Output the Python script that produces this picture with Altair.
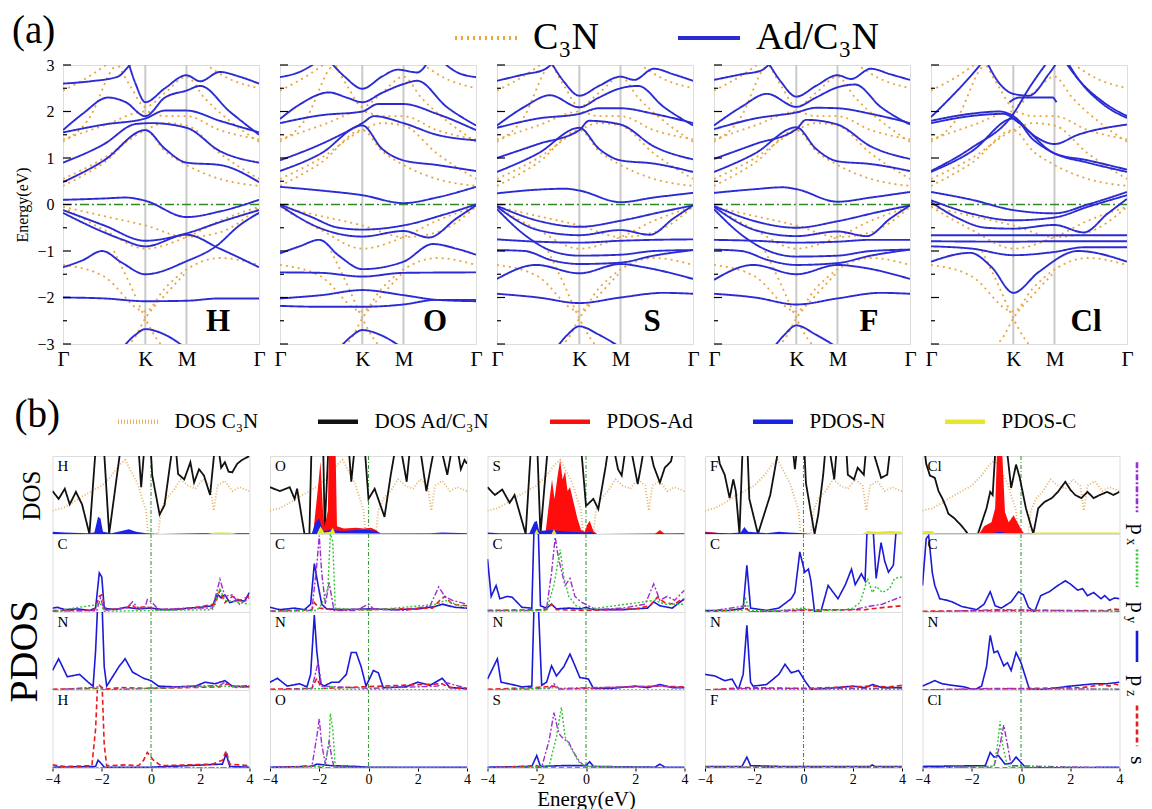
import altair as alt
import pandas as pd

SERIF = "Liberation Serif"

# ------------------------------------------------------------------ (a) data
K_POS = 0.42
M_POS = 0.63
KPATH_TICKS = [0.0, K_POS, M_POS, 1.0]
KPATH_LABELS = ["Γ", "K", "M", "Γ"]
ENERGY_TICKS_A = [-3, -2, -1, 0, 1, 2, 3]
MINOR_TICKS_A = [-2.5, -1.5, -0.5, 0.5, 1.5, 2.5]
ADSORBATES = ["H", "O", "S", "F", "Cl"]
SERIES_A = ["C₃N", "Ad/C₃N"]

C3N_BANDS = [
    [(0, -0.05), (0.21, -0.55), (0.42, -0.95), (0.63, -0.7), (0.8, -0.35), (1, -0.05)],
    [(0, -0.05), (0.21, -0.25), (0.42, -0.45), (0.63, -0.7), (0.8, -0.6), (1, -0.05)],
    [(0, -1.3), (0.21, -1.55), (0.42, -2.3), (0.52, -1.8), (0.63, -1.4), (0.8, -1.15), (1, -1.3)],
    [(0.26, -1.0), (0.34, -1.7), (0.42, -2.45), (0.48, -2.9), (0.52, -3.1)],
    [(0.3, -3.1), (0.36, -2.9), (0.42, -2.45), (0.52, -1.95), (0.63, -1.45)],
    [(0, 0.4), (0.21, 0.9), (0.42, 1.6), (0.52, 1.15), (0.63, 0.85), (0.8, 0.55), (1, 0.4)],
    [(0, 0.55), (0.21, 1.0), (0.42, 1.6), (0.52, 1.75), (0.63, 1.7), (0.8, 1.1), (1, 0.55)],
    [(0, 1.4), (0.21, 1.7), (0.42, 2.0), (0.52, 1.9), (0.63, 1.9), (0.8, 1.6), (1, 1.4)],
    [(0, 1.35), (0.14, 1.9), (0.25, 2.9), (0.3, 3.1)],
    [(0.27, 3.1), (0.35, 2.5), (0.42, 2.1), (0.52, 2.4), (0.63, 2.75), (0.72, 2.3), (0.85, 1.8), (1, 1.35)],
    [(0, 2.45), (0.15, 2.8), (0.25, 3.1)],
    [(0.7, 3.1), (0.85, 2.7), (1, 2.5)],
]

H_BANDS = [
    [(0, 2.6), (0.14, 2.65), (0.28, 2.75), (0.33, 2.95), (0.36, 3.1)],
    [(0.33, 3.1), (0.37, 2.6), (0.42, 2.2), (0.52, 2.5), (0.63, 2.78), (0.7, 2.65), (0.8, 2.85), (0.9, 2.75), (1, 2.6)],
    [(0, 1.6), (0.1, 1.95), (0.23, 2.3), (0.32, 2.2), (0.42, 1.9), (0.52, 2.3), (0.63, 2.45), (0.7, 2.55), (0.85, 2.0), (1, 1.5)],
    [(0, 1.55), (0.21, 1.72), (0.42, 1.85), (0.52, 2.02), (0.63, 2.02), (0.8, 1.8), (1, 1.55)],
    [(0, 0.9), (0.21, 1.3), (0.37, 1.73), (0.45, 1.75), (0.63, 1.65), (0.8, 1.15), (1, 0.9)],
    [(0, 0.48), (0.21, 0.95), (0.42, 1.6), (0.52, 1.2), (0.63, 0.9), (0.8, 0.85), (1, 0.48)],
    [(0, 0.1), (0.21, 0.13), (0.32, 0.15), (0.42, 0.08), (0.63, -0.27), (0.8, -0.15), (1, 0.1)],
    [(0, -0.12), (0.21, -0.45), (0.42, -0.78), (0.63, -0.62), (0.8, -0.38), (1, -0.12)],
    [(0, -0.18), (0.21, -0.6), (0.3, -0.75), (0.42, -0.9), (0.63, -0.65), (0.8, -0.95), (1, -1.35)],
    [(0, -1.35), (0.1, -1.2), (0.2, -1.0), (0.3, -1.25), (0.42, -1.5), (0.63, -1.22), (0.78, -0.9), (0.9, -0.45), (1, -0.18)],
    [(0, -2.0), (0.21, -2.02), (0.42, -2.08), (0.63, -2.07), (0.8, -2.02), (1, -2.02)],
    [(0.3, -3.1), (0.37, -2.8), (0.42, -2.68), (0.52, -2.8), (0.63, -3.1)],
]

O_BANDS = [
    [(0, 2.74), (0.1, 2.85), (0.2, 3.1)],
    [(0.25, 3.1), (0.33, 2.75), (0.42, 2.49), (0.52, 2.75), (0.6, 2.9), (0.7, 2.84), (0.76, 3.1)],
    [(0.82, 3.1), (0.9, 2.85), (1, 2.74)],
    [(0, 1.84), (0.1, 2.15), (0.25, 2.41), (0.34, 2.3), (0.42, 2.2), (0.52, 2.4), (0.63, 2.59), (0.7, 2.66), (0.85, 2.1), (1, 1.7)],
    [(0, 1.75), (0.21, 1.92), (0.42, 2.0), (0.5, 2.16), (0.63, 2.16), (0.8, 1.95), (1, 1.6)],
    [(0, 0.95), (0.21, 1.3), (0.42, 1.75), (0.48, 1.9), (0.63, 1.75), (0.8, 1.5), (1, 1.38)],
    [(0, 0.72), (0.21, 1.1), (0.42, 1.7), (0.52, 1.2), (0.63, 0.95), (0.8, 0.85), (1, 0.72)],
    [(0, 0.38), (0.21, 0.3), (0.42, 0.2), (0.63, 0.03), (0.8, 0.15), (1, 0.38)],
    [(0, 0.0), (0.15, -0.25), (0.3, -0.5), (0.42, -0.54), (0.63, -0.45), (0.85, -0.2), (1, 0.0)],
    [(0, -0.02), (0.2, -0.5), (0.42, -0.69), (0.63, -0.57), (0.76, -0.71), (0.9, -0.3), (1, -0.02)],
    [(0, -1.05), (0.1, -0.9), (0.2, -0.76), (0.3, -1.1), (0.42, -1.39), (0.63, -1.23), (0.78, -0.85), (0.9, -0.95), (1, -1.08)],
    [(0, -1.46), (0.21, -1.47), (0.42, -1.55), (0.63, -1.47), (1, -1.46)],
    [(0, -2.02), (0.21, -1.95), (0.42, -1.84), (0.63, -1.95), (0.8, -2.05), (1, -2.08)],
    [(0, -2.18), (0.21, -2.2), (0.42, -2.2), (0.63, -2.15), (0.8, -2.05), (1, -2.05)],
    [(0.3, -3.1), (0.36, -2.85), (0.42, -2.7), (0.52, -2.82), (0.63, -3.1)],
]

S_BANDS = [
    [(0, 2.66), (0.14, 2.8), (0.24, 2.9), (0.3, 3.1)],
    [(0.27, 3.1), (0.34, 2.65), (0.42, 2.34), (0.52, 2.55), (0.63, 2.75), (0.7, 2.68), (0.8, 2.92), (0.9, 2.8), (1, 2.66)],
    [(0, 1.7), (0.14, 2.1), (0.27, 2.35), (0.42, 2.09), (0.52, 2.3), (0.63, 2.5), (0.72, 2.55), (0.85, 2.1), (1, 1.7)],
    [(0, 1.65), (0.21, 1.85), (0.42, 1.95), (0.52, 2.07), (0.63, 2.07), (0.8, 1.95), (1, 1.75)],
    [(0, 1.0), (0.21, 1.3), (0.42, 1.6), (0.47, 1.8), (0.63, 1.72), (0.8, 1.25), (1, 0.97)],
    [(0, 0.7), (0.21, 1.1), (0.42, 1.65), (0.52, 1.2), (0.63, 0.95), (0.8, 0.88), (1, 0.7)],
    [(0, 0.24), (0.21, 0.32), (0.35, 0.34), (0.42, 0.3), (0.63, 0.05), (0.8, 0.15), (1, 0.25)],
    [(0, -0.03), (0.21, -0.35), (0.42, -0.48), (0.63, -0.35), (0.85, -0.15), (1, -0.02)],
    [(0, -0.05), (0.21, -0.55), (0.42, -0.66), (0.63, -0.55), (0.78, -0.65), (0.9, -0.3), (1, -0.02)],
    [(0, -0.75), (0.21, -0.8), (0.42, -0.82), (0.63, -0.78), (0.8, -0.76), (1, -0.75)],
    [(0, -0.1), (0.14, -0.65), (0.28, -1.0), (0.42, -1.1), (0.63, -1.08), (0.8, -1.0), (1, -0.98)],
    [(0, -0.98), (0.14, -1.0), (0.28, -1.2), (0.42, -1.28), (0.63, -1.25), (0.8, -1.1), (1, -0.98)],
    [(0, -1.6), (0.2, -1.3), (0.42, -1.48), (0.63, -1.28), (0.75, -1.35), (1, -1.6)],
    [(0, -1.92), (0.21, -2.0), (0.42, -2.12), (0.63, -2.0), (0.85, -1.9), (1, -1.92)],
    [(0.3, -3.1), (0.36, -2.8), (0.42, -2.62), (0.52, -2.8), (0.64, -3.1)],
]

F_BANDS = [
    [(0, 2.68), (0.14, 2.8), (0.24, 2.88), (0.3, 3.1)],
    [(0.27, 3.1), (0.34, 2.65), (0.42, 2.32), (0.52, 2.55), (0.63, 2.78), (0.7, 2.7), (0.8, 2.92), (0.9, 2.8), (1, 2.68)],
    [(0, 1.7), (0.14, 2.1), (0.27, 2.38), (0.42, 2.1), (0.52, 2.3), (0.63, 2.52), (0.72, 2.58), (0.85, 2.1), (1, 1.72)],
    [(0, 1.62), (0.21, 1.85), (0.42, 1.98), (0.52, 2.08), (0.63, 2.07), (0.8, 1.95), (1, 1.75)],
    [(0, 0.98), (0.21, 1.3), (0.42, 1.62), (0.47, 1.82), (0.63, 1.72), (0.8, 1.25), (1, 0.98)],
    [(0, 0.7), (0.21, 1.1), (0.42, 1.66), (0.52, 1.2), (0.63, 0.93), (0.8, 0.87), (1, 0.72)],
    [(0, 0.25), (0.21, 0.33), (0.35, 0.37), (0.42, 0.33), (0.63, 0.06), (0.8, 0.15), (1, 0.27)],
    [(0, -0.03), (0.21, -0.36), (0.42, -0.5), (0.63, -0.36), (0.85, -0.15), (1, -0.02)],
    [(0, -0.05), (0.21, -0.55), (0.42, -0.68), (0.63, -0.58), (0.78, -0.68), (0.9, -0.3), (1, -0.02)],
    [(0, -0.76), (0.21, -0.78), (0.42, -0.82), (0.63, -0.8), (0.8, -0.76), (1, -0.76)],
    [(0, -0.1), (0.14, -0.65), (0.28, -1.0), (0.42, -1.12), (0.63, -1.1), (0.8, -1.0), (1, -0.97)],
    [(0, -0.97), (0.14, -1.0), (0.28, -1.2), (0.42, -1.3), (0.63, -1.26), (0.8, -1.1), (1, -0.97)],
    [(0, -1.62), (0.2, -1.3), (0.42, -1.5), (0.63, -1.3), (0.75, -1.35), (1, -1.6)],
    [(0, -1.92), (0.21, -2.0), (0.42, -2.15), (0.63, -2.02), (0.85, -1.9), (1, -1.92)],
    [(0.3, -3.1), (0.36, -2.8), (0.42, -2.6), (0.52, -2.8), (0.64, -3.1)],
]

CL_BANDS = [
    [(0, 1.88), (0.1, 2.3), (0.2, 2.75), (0.27, 3.1)],
    [(0, 1.8), (0.2, 1.95), (0.35, 2.0), (0.42, 1.9), (0.52, 1.5), (0.63, 1.3), (0.75, 1.5), (1, 1.72)],
    [(0, 1.75), (0.2, 1.9), (0.37, 1.95), (0.45, 1.75), (0.63, 1.1), (0.8, 0.95), (1, 0.75)],
    [(0, 0.72), (0.2, 1.2), (0.42, 1.95), (0.5, 2.5), (0.6, 3.1)],
    [(0, 0.7), (0.21, 1.15), (0.42, 1.85), (0.52, 1.4), (0.63, 1.1), (0.8, 0.9), (1, 0.7)],
    [(0.28, 3.1), (0.35, 2.6), (0.42, 2.38), (0.5, 2.34), (0.6, 2.8), (0.65, 3.1)],
    [(0.4, 2.2), (0.45, 2.3), (0.62, 2.3), (0.64, 2.2)],
    [(0.68, 3.1), (0.75, 2.7), (0.88, 2.2), (1, 1.9)],
    [(0.69, 3.1), (0.76, 2.65), (0.88, 2.15), (1, 1.86)],
    [(0, 0.27), (0.21, 0.1), (0.42, -0.12), (0.63, -0.19), (0.8, 0.0), (1, 0.27)],
    [(0, 0.09), (0.21, -0.2), (0.42, -0.34), (0.63, -0.28), (0.8, -0.05), (1, 0.2)],
    [(0, 0.05), (0.14, -0.3), (0.28, -0.5), (0.42, -0.52), (0.63, -0.44), (0.78, -0.6), (0.9, -0.2), (1, 0.12)],
    [(0, -0.66), (0.42, -0.66), (0.63, -0.66), (1, -0.66)],
    [(0, -0.79), (0.42, -0.8), (0.63, -0.79), (1, -0.79)],
    [(0, -0.9), (0.21, -0.95), (0.42, -1.09), (0.63, -1.02), (0.78, -0.92), (1, -0.92)],
    [(0, -1.23), (0.2, -1.04), (0.31, -1.35), (0.42, -1.9), (0.55, -1.45), (0.75, -1.0), (1, -1.23)],
]

BANDS = {"H": H_BANDS, "O": O_BANDS, "S": S_BANDS, "F": F_BANDS, "Cl": CL_BANDS}

# ------------------------------------------------------------------ (b) data
ENERGY_TICKS_B = [-4, -2, 0, 2, 4]
SERIES_B = ["DOS C₃N", "DOS Ad/C₃N", "PDOS-Ad", "PDOS-N", "PDOS-C"]
ORBITAL_MAIN = ["p", "p", "p", "s"]
ORBITAL_SUB = ["x", "y", "z", ""]

C3N_DOS = [(-4, 0.3), (-3.6, 0.33), (-3.2, 0.4), (-2.8, 0.48), (-2.4, 0.55), (-2.0, 0.62), (-1.6, 0.75),
           (-1.3, 0.88), (-1.05, 0.95), (-0.8, 0.8), (-0.55, 0.65), (-0.35, 0.45), (-0.2, 0.3), (-0.12, 0.0),
           (0.3, 0.0), (0.4, 0.3), (0.6, 0.45), (0.9, 0.55), (1.2, 0.7), (1.5, 0.62), (1.8, 0.58), (2.1, 0.7),
           (2.4, 0.62), (2.55, 0.3), (2.7, 0.62), (3.0, 0.68), (3.3, 0.55), (3.6, 0.6), (4.0, 0.55)]

H_DOS_TOT = [(-4, 0.55), (-3.75, 0.45), (-3.5, 0.58), (-3.3, 0.38), (-3.05, 0.54), (-2.8, 0.38), (-2.5, 0.0),
             (-2.2, 1.3), (-1.95, 1.3), (-1.7, 0.0), (-1.15, 1.3), (-0.55, 1.3), (-0.4, 0.6), (-0.22, 1.3),
             (-0.05, 1.3), (0.05, 0.75), (0.35, 0.25), (0.55, 0.37), (0.95, 1.3), (1.1, 0.77), (1.35, 0.7),
             (1.6, 0.92), (1.75, 0.66), (1.95, 0.83), (2.15, 0.75), (2.4, 0.5), (2.65, 1.3), (2.85, 0.85),
             (3.0, 0.92), (3.15, 0.8), (3.3, 0.79), (3.5, 0.9), (3.7, 0.95), (4.0, 1.0)]
H_PDOS_AD = [(-4, 0.0), (-2.2, 0.0), (-2.1, 0.03), (-2.0, 0.0), (4, 0.0)]
H_PDOS_N = [(-4, 0.03), (-3.5, 0.02), (-2.6, 0.01), (-2.3, 0.02), (-2.15, 0.22), (-2.05, 0.2), (-1.95, 0.03),
            (-1.6, 0.01), (-1.2, 0.04), (-0.9, 0.06), (-0.6, 0.03), (-0.2, 0.01), (0.3, 0.0), (2.0, 0.01),
            (3.0, 0.01), (4.0, 0.01)]
H_PDOS_C = [(-4, 0.0), (2.3, 0.0), (2.6, 0.02), (3.2, 0.02), (3.5, 0.0), (4, 0.0)]

H_C_PX = [(-4, 0.01), (-2.2, 0.02), (-2.05, 0.18), (-1.9, 0.02), (-1.0, 0.05), (-0.75, 0.13), (-0.5, 0.05),
          (-0.25, 0.05), (-0.15, 0.16), (0.05, 0.12), (0.3, 0.03), (1.5, 0.05), (2.5, 0.05), (2.8, 0.42),
          (3.0, 0.2), (3.3, 0.22), (3.6, 0.1), (4.0, 0.18)]
H_C_PY = [(-4, 0.01), (-2.05, 0.1), (-1.9, 0.01), (2.5, 0.03), (2.8, 0.3), (3.0, 0.15), (4, 0.1)]
H_C_PZ = [(-4, 0.05), (-3.8, 0.06), (-3.5, 0.03), (-3.0, 0.04), (-2.5, 0.02), (-2.25, 0.05), (-2.1, 0.5),
          (-2.0, 0.45), (-1.9, 0.05), (-1.5, 0.03), (-1.0, 0.06), (-0.5, 0.04), (0.0, 0.05), (0.5, 0.03),
          (1.0, 0.03), (1.5, 0.05), (2.0, 0.06), (2.5, 0.08), (2.7, 0.23), (2.85, 0.18), (3.0, 0.22),
          (3.2, 0.12), (3.5, 0.15), (3.8, 0.14), (4.0, 0.25)]
H_C_S = [(-4, 0.02), (-2.3, 0.02), (-2.1, 0.2), (-2.0, 0.22), (-1.85, 0.03), (-1.0, 0.05), (-0.8, 0.1),
         (-0.6, 0.05), (-0.2, 0.07), (0.2, 0.03), (1.5, 0.04), (2.2, 0.08), (2.6, 0.1), (2.8, 0.28),
         (3.0, 0.12), (3.3, 0.2), (3.6, 0.15), (4.0, 0.2)]
H_N_PX = [(-4, 0.0), (-2.1, 0.04), (-1.9, 0.0), (2.8, 0.06), (3.0, 0.1), (3.3, 0.04), (4, 0.06)]
H_N_PY = [(-4, 0.0), (-2.1, 0.02), (-1.9, 0.0), (3.0, 0.05), (4, 0.03)]
H_N_PZ = [(-4, 0.25), (-3.75, 0.4), (-3.4, 0.17), (-2.9, 0.2), (-2.55, 0.1), (-2.35, 0.05), (-2.25, 0.5),
          (-2.15, 1.2), (-2.0, 1.2), (-1.9, 0.3), (-1.8, 0.05), (-1.6, 0.15), (-1.3, 0.3), (-1.05, 0.4),
          (-0.75, 0.23), (-0.3, 0.15), (0.0, 0.12), (0.3, 0.05), (1.0, 0.04), (1.8, 0.05), (2.2, 0.1),
          (2.6, 0.08), (3.0, 0.12), (3.3, 0.05), (4.0, 0.04)]
H_N_S = [(-4, 0.01), (-2.2, 0.02), (-2.1, 0.06), (-1.9, 0.01), (-1.2, 0.03), (0, 0.02), (2.8, 0.04),
         (3.1, 0.08), (3.5, 0.03), (4, 0.05)]
H_AD_PX = [(-4, 0.0), (4, 0.0)]
H_AD_PY = [(-4, 0.0), (4, 0.0)]
H_AD_PZ = [(-4, 0.01), (-2.25, 0.02), (-2.15, 0.1), (-2.0, 0.05), (-1.9, 0.01), (0, 0.01), (2.9, 0.05),
           (3.05, 0.18), (3.2, 0.02), (4, 0.01)]
H_AD_S = [(-4, 0.04), (-3.5, 0.02), (-2.4, 0.03), (-2.25, 0.5), (-2.15, 1.2), (-2.0, 1.2), (-1.9, 0.3),
          (-1.8, 0.03), (-1.0, 0.04), (-0.5, 0.03), (-0.3, 0.1), (-0.15, 0.2), (0.1, 0.1), (0.4, 0.03),
          (1.5, 0.04), (2.5, 0.05), (2.9, 0.1), (3.05, 0.22), (3.2, 0.05), (4, 0.03)]

O_DOS_TOT = [(-4, 0.6), (-3.6, 0.55), (-3.2, 0.6), (-3.0, 0.45), (-2.9, 0.58), (-2.6, 0.0), (-2.4, 0.0),
             (-2.3, 1.3), (-1.85, 1.3), (-1.78, 0.05), (-1.6, 1.3), (-0.85, 1.3), (-0.7, 0.67), (-0.5, 1.3),
             (-0.2, 1.3), (0.0, 0.45), (0.25, 0.58), (0.65, 0.22), (0.9, 0.75), (1.2, 1.3), (1.55, 0.67),
             (1.75, 1.3), (2.0, 1.3), (2.35, 0.55), (2.55, 0.9), (2.8, 1.3), (3.2, 0.76), (3.5, 1.3),
             (3.75, 0.83), (3.9, 0.95), (4.0, 0.9)]
O_PDOS_AD = [(-4, 0.0), (-2.25, 0.0), (-2.15, 0.3), (-2.05, 0.6), (-1.95, 0.93), (-1.85, 0.3), (-1.78, 0.1),
             (-1.65, 0.3), (-1.6, 1.3), (-1.35, 1.3), (-1.28, 0.1), (-1.0, 0.07), (-0.5, 0.08), (-0.2, 0.07),
             (0.1, 0.08), (0.3, 0.05), (0.5, 0.0), (4, 0.0)]
O_PDOS_N = [(-4, 0.01), (-2.3, 0.01), (-2.15, 0.15), (-2.0, 0.2), (-1.85, 0.04), (-1.5, 0.05), (-1.0, 0.04),
            (-0.5, 0.05), (0.0, 0.05), (0.3, 0.04), (0.5, 0.01), (2.5, 0.01), (3.0, 0.02), (4, 0.01)]
O_PDOS_C = [(-4, 0.0), (-2.1, 0.0), (-1.95, 0.1), (-1.8, 0.02), (-1.55, 0.03), (-1.45, 0.08), (-1.35, 0.01),
            (4, 0.0)]

O_C_PX = [(-4, 0.01), (-2.3, 0.02), (-2.1, 0.6), (-2.0, 0.98), (-1.9, 0.5), (-1.75, 0.1), (-1.6, 0.38),
          (-1.5, 0.2), (-1.4, 0.02), (-0.5, 0.02), (0.0, 0.1), (0.2, 0.04), (1.5, 0.02), (2.5, 0.08),
          (2.85, 0.32), (3.1, 0.2), (3.4, 0.15), (4, 0.1)]
O_C_PY = [(-4, 0.01), (-2.1, 0.02), (-1.9, 0.1), (-1.65, 0.3), (-1.55, 1.0), (-1.45, 0.9), (-1.35, 0.05),
          (0, 0.02), (2.8, 0.1), (3.1, 0.15), (4, 0.05)]
O_C_PZ = [(-4, 0.06), (-3.6, 0.03), (-3.0, 0.05), (-2.6, 0.03), (-2.35, 0.1), (-2.2, 0.62), (-2.05, 0.35),
          (-1.9, 0.1), (-1.7, 0.04), (-1.0, 0.03), (0.0, 0.04), (1.0, 0.03), (2.0, 0.04), (2.7, 0.07),
          (3.0, 0.1), (3.5, 0.06), (4, 0.05)]
O_C_S = [(-4, 0.01), (-2.3, 0.03), (-2.2, 0.12), (-2.0, 0.05), (-1.5, 0.03), (0, 0.03), (2.6, 0.05),
         (2.9, 0.15), (3.1, 0.2), (3.4, 0.1), (4, 0.08)]
O_N_PX = [(-4, 0.0), (-2.3, 0.02), (-2.05, 0.35), (-1.9, 0.05), (0, 0.02), (2.8, 0.05), (3.1, 0.1), (4, 0.02)]
O_N_PY = [(-4, 0.0), (-1.6, 0.02), (-1.5, 0.06), (-1.4, 0.01), (4, 0.0)]
O_N_PZ = [(-4, 0.1), (-3.7, 0.15), (-3.3, 0.05), (-2.8, 0.08), (-2.5, 0.04), (-2.35, 0.2), (-2.2, 0.96),
          (-2.1, 0.5), (-1.95, 0.08), (-1.8, 0.05), (-1.5, 0.1), (-1.2, 0.1), (-0.9, 0.2), (-0.7, 0.48),
          (-0.5, 0.48), (-0.3, 0.3), (-0.1, 0.05), (0.2, 0.25), (0.4, 0.22), (0.6, 0.03), (1.5, 0.04),
          (2.0, 0.1), (2.5, 0.06), (3.0, 0.15), (3.3, 0.03), (4, 0.02)]
O_N_S = [(-4, 0.01), (-2.3, 0.02), (-2.1, 0.15), (-1.9, 0.02), (3.0, 0.08), (3.2, 0.04), (4, 0.01)]
O_AD_PX = [(-4, 0.0), (-2.3, 0.02), (-2.1, 0.4), (-2.0, 0.63), (-1.9, 0.3), (-1.75, 0.05), (-1.6, 0.35),
           (-1.5, 0.15), (-1.4, 0.01), (4, 0.0)]
O_AD_PY = [(-4, 0.0), (-1.8, 0.02), (-1.6, 0.3), (-1.55, 0.7), (-1.45, 0.5), (-1.35, 0.01), (4, 0.0)]
O_AD_PZ = [(-4, 0.01), (-2.3, 0.02), (-2.1, 0.05), (-1.5, 0.03), (-0.5, 0.02), (0, 0.01), (4, 0.01)]
O_AD_S = [(-4, 0.0), (-2.1, 0.03), (-1.9, 0.0), (4, 0.0)]

S_DOS_TOT = [(-4, 0.6), (-3.7, 0.5), (-3.4, 0.57), (-3.1, 0.4), (-2.9, 0.5), (-2.45, 0.0), (-2.2, 1.3),
             (-2.0, 1.3), (-1.85, 0.0), (-1.5, 1.3), (-0.25, 1.3), (0.0, 0.36), (0.3, 0.45), (0.5, 0.32),
             (0.8, 0.87), (1.0, 1.3), (1.3, 0.83), (1.45, 0.75), (1.7, 1.3), (2.1, 0.64), (2.25, 0.9),
             (2.45, 1.3), (2.75, 0.87), (3.0, 0.66), (3.2, 0.85), (3.45, 0.93), (3.7, 1.3), (4.0, 1.0)]
S_PDOS_AD = [(-4, 0.0), (-1.65, 0.0), (-1.5, 0.4), (-1.38, 0.7), (-1.28, 0.45), (-1.15, 0.75), (-1.05, 0.95),
             (-0.95, 0.7), (-0.85, 0.8), (-0.75, 0.55), (-0.65, 0.6), (-0.5, 0.4), (-0.35, 0.2), (-0.2, 0.05),
             (-0.05, 0.03), (0.05, 0.12), (0.15, 0.17), (0.3, 0.04), (0.45, 0.0), (2.8, 0.0), (3.0, 0.05),
             (3.2, 0.0), (4, 0.0)]
S_PDOS_N = [(-4, 0.02), (-3.5, 0.01), (-2.3, 0.01), (-2.1, 0.15), (-2.0, 0.17), (-1.9, 0.04), (-1.4, 0.05),
            (-0.7, 0.03), (0, 0.02), (0.2, 0.03), (0.4, 0.0), (4, 0.01)]
S_PDOS_C = [(-4, 0.0), (-2.1, 0.0), (-2.0, 0.06), (-1.9, 0.0), (-1.4, 0.0), (-1.3, 0.06), (-1.2, 0.0), (4, 0.0)]

S_C_PX = [(-4, 0.02), (-2.0, 0.02), (-1.6, 0.05), (-1.4, 0.5), (-1.25, 0.96), (-1.15, 0.75), (-1.05, 0.6),
          (-0.85, 0.34), (-0.65, 0.43), (-0.45, 0.2), (-0.2, 0.13), (0.1, 0.08), (0.4, 0.03), (1.5, 0.05),
          (2.4, 0.1), (2.75, 0.36), (3.0, 0.15), (3.3, 0.2), (3.6, 0.15), (4.0, 0.28)]
S_C_PY = [(-4, 0.01), (-1.6, 0.02), (-1.3, 0.35), (-1.05, 0.8), (-0.9, 0.45), (-0.7, 0.2), (-0.4, 0.08),
          (0, 0.03), (2.8, 0.15), (3.2, 0.1), (4, 0.1)]
S_C_PZ = [(-4, 0.68), (-3.85, 0.2), (-3.65, 0.34), (-3.5, 0.17), (-3.2, 0.2), (-3.0, 0.19), (-2.6, 0.06),
          (-2.2, 0.05), (-2.1, 1.2), (-1.95, 1.2), (-1.85, 0.08), (-1.6, 0.05), (-1.4, 0.1), (-1.2, 0.04),
          (-0.7, 0.05), (-0.2, 0.04), (0.0, 0.06), (0.3, 0.03), (1.5, 0.03), (2.5, 0.05), (2.75, 0.13),
          (3.0, 0.08), (3.5, 0.05), (4.0, 0.17)]
S_C_S = [(-4, 0.02), (-1.6, 0.03), (-1.4, 0.1), (-1.2, 0.03), (0, 0.02), (2.0, 0.04), (2.6, 0.08),
         (2.9, 0.19), (3.2, 0.12), (3.6, 0.1), (3.9, 0.17), (4, 0.15)]
S_N_PX = [(-4, 0.0), (-1.5, 0.02), (-1.3, 0.08), (-1.1, 0.02), (3.0, 0.05), (4, 0.03)]
S_N_PY = [(-4, 0.0), (-1.2, 0.03), (-1.0, 0.0), (4, 0.0)]
S_N_PZ = [(-4, 0.14), (-3.6, 0.4), (-3.45, 0.1), (-3.0, 0.07), (-2.6, 0.04), (-2.2, 0.05), (-2.1, 1.2),
          (-1.95, 1.2), (-1.8, 0.06), (-1.6, 0.1), (-1.4, 0.31), (-1.2, 0.18), (-0.9, 0.3), (-0.65, 0.46),
          (-0.5, 0.35), (-0.25, 0.16), (0.1, 0.14), (0.3, 0.02), (1.0, 0.02), (2.0, 0.05), (2.5, 0.03),
          (3.0, 0.07), (3.5, 0.03), (4, 0.03)]
S_N_S = [(-4, 0.01), (-2.1, 0.03), (-1.3, 0.05), (-1.1, 0.01), (2.9, 0.05), (3.9, 0.04), (4, 0.04)]
S_AD_PX = [(-4, 0.0), (-1.8, 0.01), (-1.5, 0.35), (-1.3, 0.71), (-1.15, 0.5), (-1.05, 0.42), (-0.9, 0.37),
           (-0.7, 0.33), (-0.5, 0.2), (-0.3, 0.1), (-0.1, 0.03), (0.2, 0.02), (4, 0.0)]
S_AD_PY = [(-4, 0.0), (-1.5, 0.02), (-1.2, 0.4), (-1.0, 0.78), (-0.85, 0.4), (-0.6, 0.25), (-0.3, 0.08),
           (0, 0.02), (4, 0.0)]
S_AD_PZ = [(-4, 0.01), (-2.2, 0.02), (-2.0, 0.16), (-1.85, 0.02), (-1.0, 0.03), (0.0, 0.03), (0.15, 0.08),
           (0.3, 0.02), (2.8, 0.01), (3.0, 0.05), (3.2, 0.01), (4, 0.01)]
S_AD_S = [(-4, 0.0), (-2.0, 0.03), (-1.8, 0.0), (4, 0.0)]

F_DOS_TOT = [(-4, 1.3), (-3.6, 1.3), (-3.4, 0.9), (-3.2, 0.76), (-3.0, 0.46), (-2.85, 0.7), (-2.75, 0.55),
             (-2.6, 0.0), (-2.45, 1.3), (-2.3, 1.3), (-2.2, 0.45), (-1.85, 0.0), (-1.35, 0.5), (-0.9, 1.3),
             (-0.5, 1.3), (-0.35, 0.83), (-0.2, 1.3), (0.0, 1.3), (0.1, 0.65), (0.45, 0.0), (0.6, 0.25),
             (0.8, 0.76), (0.95, 1.3), (1.25, 0.7), (1.4, 1.3), (1.7, 1.3), (1.8, 0.76), (2.05, 0.7),
             (2.2, 0.85), (2.45, 0.76), (2.6, 1.3), (3.15, 0.72), (3.4, 0.76), (3.6, 1.3), (3.8, 1.2), (4.0, 1.3)]
F_PDOS_AD = [(-4, 0.03), (-3.6, 0.02), (-3.3, 0.0), (4, 0.0)]
F_PDOS_N = [(-4, 0.02), (-3.0, 0.01), (-2.55, 0.02), (-2.4, 0.09), (-2.25, 0.03), (-1.5, 0.01), (-1.0, 0.03),
            (-0.6, 0.02), (0, 0.01), (0.3, 0.0), (4, 0.0)]
F_PDOS_C = [(-4, 0.0), (2.4, 0.0), (2.6, 0.04), (3.0, 0.03), (3.5, 0.04), (4, 0.03)]

F_C_PX = [(-4, 0.0), (-2.35, 0.08), (-2.2, 0.0), (0, 0.03), (2.0, 0.03), (2.8, 0.08), (3.2, 0.1), (3.6, 0.15),
          (4, 0.2)]
F_C_PY = [(-4, 0.01), (-2.5, 0.02), (-2.35, 0.17), (-2.2, 0.02), (-1.0, 0.02), (0, 0.05), (0.4, 0.02),
          (1.5, 0.02), (2.0, 0.05), (2.3, 0.12), (2.6, 0.43), (2.8, 0.25), (2.95, 0.33), (3.2, 0.25),
          (3.5, 0.3), (3.7, 0.43), (4, 0.45)]
F_C_PZ = [(-4, 0.02), (-3.0, 0.02), (-2.8, 0.03), (-2.45, 0.05), (-2.3, 0.6), (-2.15, 0.05), (-1.5, 0.02),
          (-1.0, 0.05), (-0.5, 0.17), (-0.35, 0.25), (-0.15, 0.77), (0.05, 0.51), (0.2, 0.55), (0.3, 0.4),
          (0.45, 0.0), (0.7, 0.0), (1.0, 0.34), (1.4, 0.17), (1.7, 0.35), (1.95, 0.55), (2.1, 0.35),
          (2.35, 0.49), (2.5, 0.4), (2.6, 1.2), (2.8, 1.2), (2.95, 0.43), (3.15, 0.89), (3.3, 0.65),
          (3.45, 0.51), (3.65, 0.6), (3.8, 1.2), (4, 1.2)]
F_C_S = [(-4, 0.0), (-2.3, 0.04), (-2.15, 0.0), (0, 0.02), (2.5, 0.03), (3.0, 0.05), (4, 0.08)]
F_N_PX = [(-4, 0.0), (-2.3, 0.02), (4, 0.02)]
F_N_PY = [(-4, 0.0), (4, 0.01)]
F_N_PZ = [(-4, 0.2), (-3.6, 0.18), (-3.2, 0.12), (-2.9, 0.14), (-2.65, 0.0), (-2.45, 0.2), (-2.3, 0.83),
          (-2.15, 0.1), (-2.05, 0.05), (-1.5, 0.07), (-1.0, 0.2), (-0.75, 0.33), (-0.5, 0.22), (-0.2, 0.25),
          (0.05, 0.12), (0.3, 0.01), (1.0, 0.02), (2.0, 0.05), (2.5, 0.03), (2.8, 0.07), (3.2, 0.03), (4, 0.03)]
F_N_S = [(-4, 0.0), (-2.3, 0.03), (0, 0.02), (2.8, 0.05), (3.5, 0.04), (4, 0.06)]
F_AD_PX = [(-4, 0.01), (4, 0.01)]
F_AD_PY = [(-4, 0.01), (4, 0.01)]
F_AD_PZ = [(-4, 0.02), (-2.5, 0.02), (-2.3, 0.14), (-2.15, 0.03), (-1.0, 0.02), (0.0, 0.02), (2.7, 0.02),
           (2.8, 0.04), (2.9, 0.02), (4, 0.02)]
F_AD_S = [(-4, 0.01), (4, 0.01)]

CL_DOS_TOT = [(-4, 1.3), (-3.85, 0.9), (-3.7, 0.75), (-3.5, 0.72), (-3.35, 0.55), (-3.2, 0.46), (-3.05, 0.35),
              (-2.95, 0.26), (-2.7, 0.2), (-2.4, 0.1), (-2.15, 0.0), (-1.75, 0.0), (-1.4, 0.33), (-1.25, 0.54),
              (-1.15, 0.5), (-1.0, 1.3), (-0.65, 1.3), (-0.4, 0.59), (-0.2, 0.89), (-0.05, 0.72), (0.2, 0.33),
              (0.5, 0.0), (0.7, 0.33), (0.95, 0.41), (1.25, 0.46), (1.5, 0.54), (1.8, 0.67), (2.0, 0.57),
              (2.2, 0.5), (2.45, 0.46), (2.7, 0.54), (2.95, 0.46), (3.2, 0.5), (3.5, 0.54), (3.75, 0.5), (4.0, 0.54)]
CL_PDOS_AD = [(-4, 0.0), (-1.7, 0.0), (-1.5, 0.1), (-1.2, 0.15), (-1.05, 0.33), (-0.95, 1.3), (-0.8, 1.3),
              (-0.65, 0.28), (-0.5, 0.15), (-0.3, 0.24), (-0.15, 0.15), (0.05, 0.04), (0.15, 0.0), (4, 0.0)]
CL_PDOS_N = [(-4, 0.01), (-1.2, 0.01), (-0.9, 0.03), (-0.5, 0.01), (4, 0.01)]
CL_PDOS_C = [(-4, 0.04), (-3.6, 0.04), (-3.5, 0.01), (0.4, 0.01), (0.6, 0.02), (4, 0.02)]

CL_C_PX = [(-4, 0.0), (-0.9, 0.03), (4, 0.01)]
CL_C_PY = [(-4, 0.0), (4, 0.01)]
CL_C_PZ = [(-4, 0.34), (-3.85, 0.94), (-3.75, 0.98), (-3.6, 0.5), (-3.5, 0.34), (-3.3, 0.17), (-3.0, 0.15),
           (-2.8, 0.13), (-2.4, 0.07), (-1.8, 0.03), (-1.5, 0.1), (-1.25, 0.26), (-1.05, 0.08), (-0.8, 0.05),
           (-0.4, 0.13), (-0.1, 0.26), (0.1, 0.22), (0.3, 0.06), (0.55, 0.0), (0.8, 0.21), (1.15, 0.26),
           (1.5, 0.34), (1.8, 0.4), (2.0, 0.36), (2.3, 0.28), (2.5, 0.3), (2.7, 0.21), (2.95, 0.25),
           (3.25, 0.17), (3.4, 0.21), (3.6, 0.15), (3.8, 0.18), (4.0, 0.17)]
CL_C_S = [(-4, 0.01), (0, 0.02), (3.5, 0.02), (3.7, 0.04), (4, 0.03)]
CL_N_PX = [(-4, 0.0), (-1.2, 0.02), (4, 0.01)]
CL_N_PY = [(-4, 0.0), (4, 0.01)]
CL_N_PZ = [(-4, 0.05), (-3.5, 0.12), (-3.2, 0.08), (-2.8, 0.06), (-2.3, 0.04), (-1.9, 0.0), (-1.6, 0.05),
           (-1.4, 0.3), (-1.25, 0.7), (-1.1, 0.48), (-0.95, 0.5), (-0.7, 0.31), (-0.55, 0.35), (-0.4, 0.25),
           (-0.2, 0.48), (0.0, 0.35), (0.2, 0.15), (0.35, 0.0), (1.0, 0.01), (2.0, 0.05), (3.0, 0.08),
           (3.5, 0.08), (4, 0.1)]
CL_N_S = [(-4, 0.0), (2.5, 0.03), (3.3, 0.07), (3.6, 0.05), (3.8, 0.08), (4, 0.06)]
CL_AD_PX = [(-4, 0.0), (-1.1, 0.02), (-0.85, 0.3), (-0.7, 0.55), (-0.55, 0.3), (-0.4, 0.03), (4, 0.0)]
CL_AD_PY = [(-4, 0.0), (-1.1, 0.02), (-0.95, 0.3), (-0.85, 0.6), (-0.75, 0.3), (-0.55, 0.02), (4, 0.0)]
CL_AD_PZ = [(-4, 0.02), (-1.45, 0.03), (-1.25, 0.2), (-1.1, 0.14), (-0.92, 0.16), (-0.65, 0.05), (-0.4, 0.06),
            (-0.2, 0.14), (0.0, 0.07), (0.2, 0.0), (4, 0.01)]
CL_AD_S = [(-4, 0.0), (4, 0.0)]

DOS_DATA = {
    "H": (H_DOS_TOT, H_PDOS_AD, H_PDOS_N, H_PDOS_C),
    "O": (O_DOS_TOT, O_PDOS_AD, O_PDOS_N, O_PDOS_C),
    "S": (S_DOS_TOT, S_PDOS_AD, S_PDOS_N, S_PDOS_C),
    "F": (F_DOS_TOT, F_PDOS_AD, F_PDOS_N, F_PDOS_C),
    "Cl": (CL_DOS_TOT, CL_PDOS_AD, CL_PDOS_N, CL_PDOS_C),
}
PDOS_DATA = {
    "H": [("C", (H_C_PX, H_C_PY, H_C_PZ, H_C_S)), ("N", (H_N_PX, H_N_PY, H_N_PZ, H_N_S)), ("H", (H_AD_PX, H_AD_PY, H_AD_PZ, H_AD_S))],
    "O": [("C", (O_C_PX, O_C_PY, O_C_PZ, O_C_S)), ("N", (O_N_PX, O_N_PY, O_N_PZ, O_N_S)), ("O", (O_AD_PX, O_AD_PY, O_AD_PZ, O_AD_S))],
    "S": [("C", (S_C_PX, S_C_PY, S_C_PZ, S_C_S)), ("N", (S_N_PX, S_N_PY, S_N_PZ, S_N_S)), ("S", (S_AD_PX, S_AD_PY, S_AD_PZ, S_AD_S))],
    "F": [("C", (F_C_PX, F_C_PY, F_C_PZ, F_C_S)), ("N", (F_N_PX, F_N_PY, F_N_PZ, F_N_S)), ("F", (F_AD_PX, F_AD_PY, F_AD_PZ, F_AD_S))],
    "Cl": [("C", (CL_C_PX, CL_C_PY, CL_C_PZ, CL_C_S)), ("N", (CL_N_PX, CL_N_PY, CL_N_PZ, CL_N_S)), ("Cl", (CL_AD_PX, CL_AD_PY, CL_AD_PZ, CL_AD_S))],
}

# ------------------------------------------------------------------ styles
ORANGE = "#EBA53C"
BLUE_BAND = "#2B2BD4"
GREEN = "#2E8B22"
GREY = "#C9C9C9"
BLACK = "#111111"
RED = "#FF0D0D"
BLUE_N = "#1A22E6"
YELLOW = "#E6E62A"
ORB_COLORS = ["#9B30D0", "#33C433", "#1A1AD8", "#E81C1C"]
ORB_DASHES = [[6, 2, 2, 2], [2, 2], [1, 0], [5, 3]]
ORB_WIDTHS = [1.4, 1.4, 1.6, 1.6]

A_W, A_H = 196, 279
B_W, B_H = 197, 78

INDEP = dict(color="independent", strokeDash="independent", x="independent", y="independent")


def resolve(c):
    return c.resolve_scale(**INDEP)


def bands_df(bands, series):
    rows = []
    for i, band in enumerate(bands):
        for k, e in band:
            rows.append({"band": f"{series}{i}", "k": k, "E": e, "series": series})
    return pd.DataFrame(rows)


label_expr = " : ".join(
    f"abs(datum.value - {v}) < 0.005 ? '{l}'" for v, l in zip(KPATH_TICKS, KPATH_LABELS)
) + " : ''"


def band_panel(name, bands, first):
    xs = alt.X("k:Q", scale=alt.Scale(domain=[0, 1], nice=False, zero=False),
               axis=alt.Axis(values=KPATH_TICKS, labelExpr=label_expr, title=None, ticks=False, domain=False,
                             grid=False, labelFont=SERIF, labelFontSize=21, labelColor="black", labelPadding=4,
                             labelFlush=False, labelOverlap=False))
    if first:
        yaxis = alt.Axis(values=ENERGY_TICKS_A, title="Energy(eV)", titleFont=SERIF, titleFontSize=16,
                         titleFontWeight="normal", titleColor="black", titlePadding=6, labelFont=SERIF,
                         labelFontSize=16, labelColor="black", labelPadding=9, ticks=False, domain=False, grid=False)
    else:
        yaxis = None
    ys = alt.Y("E:Q", scale=alt.Scale(domain=[-3, 3], nice=False, zero=False), axis=yaxis)
    if first:
        leg = alt.Legend(title="(a)", titleOrient="left", titleFont=SERIF, titleFontSize=39,
                         titleFontWeight="normal", titleColor="black", titlePadding=397, orient="none",
                         legendX=-51, legendY=-60, direction="horizontal", symbolType="stroke",
                         symbolSize=3844, symbolStrokeWidth=4, labelFont=SERIF, labelFontSize=38,
                         labelColor="black", labelOffset=14, columnPadding=70, labelLimit=300)
    else:
        leg = None
    cscale = alt.Scale(domain=SERIES_A, range=[ORANGE, BLUE_BAND])
    dscale = alt.Scale(domain=SERIES_A, range=[[2, 4], [1, 0]])

    krules = alt.Chart(pd.DataFrame({"k": KPATH_TICKS[1:3]})).mark_rule(color=GREY, strokeWidth=2).encode(x=xs)
    c3n = alt.Chart(bands_df(C3N_BANDS, SERIES_A[0])).mark_line(
        strokeWidth=1.8, clip=True, interpolate="monotone").encode(
        x=xs, y=ys, detail="band:N",
        color=alt.Color("series:N", scale=cscale, legend=leg),
        strokeDash=alt.StrokeDash("series:N", scale=dscale, legend=leg))
    fermi = alt.Chart(pd.DataFrame({"E": [0.0]})).mark_rule(
        color=GREEN, strokeDash=[9, 3, 2, 3], strokeWidth=1.6).encode(y=ys)
    ad = alt.Chart(bands_df(bands, SERIES_A[1])).mark_line(
        strokeWidth=1.9, clip=True, interpolate="monotone").encode(
        x=xs, y=ys, detail="band:N",
        color=alt.Color("series:N", scale=cscale, legend=leg),
        strokeDash=alt.StrokeDash("series:N", scale=dscale, legend=leg))
    major = alt.Chart(pd.DataFrame({"E": ENERGY_TICKS_A})).mark_rule(color="black", strokeWidth=1.2).encode(
        x=alt.value(0), x2=alt.value(8), y=ys)
    minor = alt.Chart(pd.DataFrame({"E": MINOR_TICKS_A})).mark_rule(color="black", strokeWidth=1.2).encode(
        x=alt.value(0), x2=alt.value(4), y=ys)
    lab = alt.Chart(pd.DataFrame({"t": [name]})).mark_text(
        font=SERIF, fontSize=31, fontWeight="bold", color="black", align="center", baseline="middle").encode(
        text="t:N", x=alt.value(155), y=alt.value(257))
    return alt.layer(krules, c3n, fermi, ad, major, minor, lab).properties(width=A_W, height=A_H)


def pairs_df(pairs, series=None):
    df = pd.DataFrame(pairs, columns=["E", "v"])
    if series is not None:
        df["series"] = series
    return df


def b_axes(bottom, xtitle, ytitle, ytitle_size):
    if bottom:
        xaxis = alt.Axis(values=ENERGY_TICKS_B, title=xtitle if xtitle else None, titleFont=SERIF, titleFontSize=21,
                         titleFontWeight="normal", titleColor="black", titlePadding=2,
                         labelFont=SERIF, labelFontSize=14, labelColor="black", labelPadding=1,
                         ticks=True, tickSize=3, tickColor="black", domain=False, grid=False, labelFlush=False)
    else:
        xaxis = None
    xs = alt.X("E:Q", scale=alt.Scale(domain=[-4, 4], nice=False, zero=False), axis=xaxis)
    if ytitle:
        yaxis = alt.Axis(title=ytitle, labels=False, ticks=False, domain=False, grid=False, titleFont=SERIF,
                         titleFontSize=ytitle_size, titleFontWeight="normal", titleColor="black", titlePadding=8)
    else:
        yaxis = None
    ys = alt.Y("v:Q", scale=alt.Scale(domain=[0, 1], nice=False, zero=False), axis=yaxis)
    return xs, ys


def corner_label(text):
    return alt.Chart(pd.DataFrame({"t": [text]})).mark_text(
        font=SERIF, fontSize=15, color="black", align="left", baseline="middle").encode(
        text="t:N", x=alt.value(5), y=alt.value(10))


def fermi_b(xs):
    return alt.Chart(pd.DataFrame({"E": [0.0]})).mark_rule(
        color="#3A9A3A", strokeDash=[4, 2, 1, 2], strokeWidth=1.1).encode(x=xs)


def dos_panel(name, first):
    total, pad, pn, pc = DOS_DATA[name]
    xs, ys = b_axes(False, None, "DOS" if first else None, 25)
    if first:
        leg = alt.Legend(title="(b)", titleOrient="left", titleFont=SERIF, titleFontSize=39,
                         titleFontWeight="normal", titleColor="black", titlePadding=55, orient="none",
                         legendX=-38, legendY=-57, direction="horizontal", symbolType="stroke",
                         symbolSize=1600, symbolStrokeWidth=4.5, labelFont=SERIF, labelFontSize=21,
                         labelColor="black", labelOffset=14, columnPadding=50, labelLimit=300)
    else:
        leg = None
    cscale = alt.Scale(domain=SERIES_B, range=["#E8B060", BLACK, RED, BLUE_N, YELLOW])
    dscale = alt.Scale(domain=SERIES_B, range=[[1, 2], [1, 0], [1, 0], [1, 0], [1, 0]])
    lines = pd.concat([pairs_df(C3N_DOS, SERIES_B[0]), pairs_df(total, SERIES_B[1])])
    line_layer = alt.Chart(lines).mark_line(strokeWidth=1.8, clip=True).encode(
        x=xs, y=ys,
        color=alt.Color("series:N", scale=cscale, legend=leg),
        strokeDash=alt.StrokeDash("series:N", scale=dscale, legend=leg))
    areas = [alt.Chart(pairs_df(d)).mark_area(color=col, clip=True, opacity=1).encode(x=xs, y=ys)
             for d, col in ((pad, RED), (pn, BLUE_N), (pc, YELLOW))]
    return alt.layer(fermi_b(xs), line_layer, *areas, corner_label(name)).properties(width=B_W, height=B_H)


def pdos_panel(label, curves, bottom, xtitle, ytitle):
    xs, ys = b_axes(bottom, xtitle, ytitle, 40)
    order = [2, 3, 0, 1]
    lines = [alt.Chart(pairs_df(curves[i])).mark_line(
        color=ORB_COLORS[i], strokeDash=ORB_DASHES[i], strokeWidth=ORB_WIDTHS[i], clip=True).encode(x=xs, y=ys)
        for i in order]
    return alt.layer(fermi_b(xs), *lines, corner_label(label)).properties(width=B_W, height=B_H)


def spacer(w, h):
    return alt.Chart(pd.DataFrame({"v": [0]})).mark_point(opacity=0).encode(
        x=alt.X("v:Q", axis=None), y=alt.Y("v:Q", axis=None)).properties(
        width=w, height=h, view=alt.ViewBackground(stroke="transparent"))


def orbital_legend():
    # legend cell sits in the DOS row; its scale spans the four stacked rows
    seg_top = [0.02, 0.30, 0.56, 0.80]
    seg_bot = [0.18, 0.42, 0.66, 0.93]
    lab_pos = [0.235, 0.485, 0.72, 0.975]
    ysc = alt.Scale(domain=[0, 0.25], reverse=True, nice=False, zero=False)
    layers = []
    for i in range(4):
        seg = pd.DataFrame({"y0": [seg_top[i]], "y1": [seg_bot[i]], "yl": [lab_pos[i]],
                            "ys": [lab_pos[i] + 0.04]})
        layers.append(alt.Chart(seg).mark_rule(color=ORB_COLORS[i], strokeDash=ORB_DASHES[i], strokeWidth=2.6).encode(
            x=alt.value(-3), y=alt.Y("y0:Q", scale=ysc, axis=None), y2="y1:Q"))
        layers.append(alt.Chart(seg).mark_text(text=ORBITAL_MAIN[i], angle=90, font=SERIF, fontSize=22,
                                               color="black", align="center", baseline="middle").encode(
            x=alt.value(-2), y=alt.Y("yl:Q", scale=ysc, axis=None)))
        if ORBITAL_SUB[i]:
            layers.append(alt.Chart(seg).mark_text(text=ORBITAL_SUB[i], angle=90, font=SERIF, fontSize=14,
                                                   color="black", align="center", baseline="middle").encode(
                x=alt.value(-9), y=alt.Y("ys:Q", scale=ysc, axis=None)))
    return alt.layer(*layers).properties(width=1, height=B_H, view=alt.ViewBackground(stroke="transparent"))


# ------------------------------------------------------------------ assemble
a_row = resolve(alt.hconcat(spacer(10.5, A_H),
                            *[band_panel(n, BANDS[n], i == 0) for i, n in enumerate(ADSORBATES)],
                            spacing=21, bounds="flush"))

cells = [spacer(1, B_H)]
cells += [dos_panel(n, j == 0) for j, n in enumerate(ADSORBATES)] + [orbital_legend()]
for r in range(3):
    cells.append(spacer(1, B_H))
    for j, n in enumerate(ADSORBATES):
        lab, curves = PDOS_DATA[n][r]
        cells.append(pdos_panel(lab, curves, r == 2, "Energy(eV)" if j == 2 else None,
                                "PDOS" if (j == 0 and r == 1) else None))
    cells.append(spacer(1, B_H))
b_grid = resolve(alt.concat(*cells, columns=7, spacing={"row": 0, "column": 20.5}, bounds="flush"))

chart = resolve(alt.vconcat(a_row, b_grid, spacing=28)).properties(
    padding={"left": 4, "top": 4, "right": 0, "bottom": 0}
).configure_view(stroke="black", strokeWidth=1.6).configure(background="white")

chart.save("out.html", embed_options={"renderer": "svg", "actions": False})
